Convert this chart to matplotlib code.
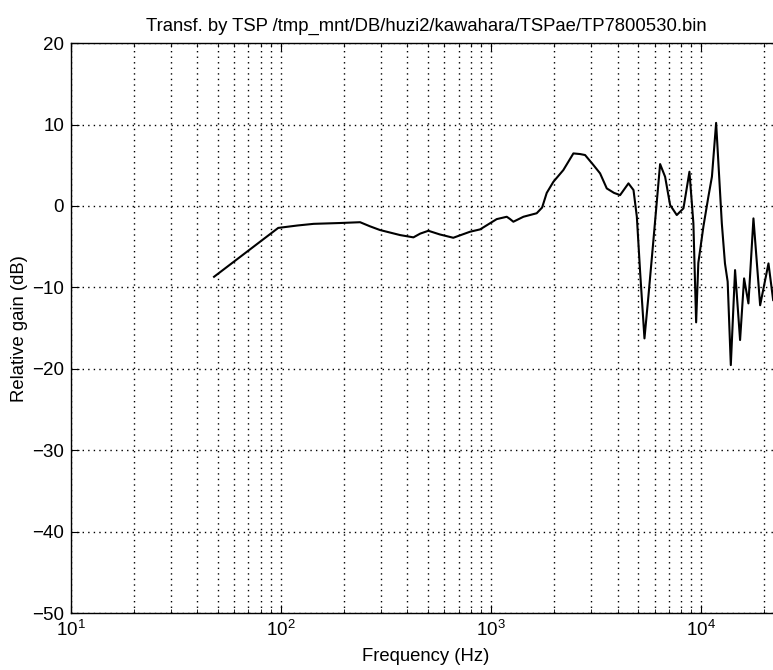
import matplotlib.pyplot as plt
from matplotlib.ticker import LogLocator, NullFormatter, MultipleLocator

# values
freq = [48, 97, 120, 143, 190, 238, 265, 296, 369, 427, 460, 503, 570, 661, 794,
        887, 1064, 1188, 1230, 1277, 1426, 1649, 1750, 1841, 1981, 2208, 2466,
        2655, 2803, 3072, 3304, 3556, 3850, 4115, 4510, 4766, 4944, 5130, 5375,
        5610, 5930, 6380, 6740, 7120, 7660, 8240, 8800, 9190, 9470, 9700, 10260,
        10830, 11260, 11790, 12550, 12990, 13380, 13850, 14510, 15330, 16020,
        16800, 17750, 19100, 20930, 22030]
gain = [-8.7, -2.7, -2.4, -2.2, -2.1, -2.0, -2.5, -2.96, -3.58, -3.86, -3.4, -3.05,
        -3.5, -3.91, -3.17, -2.88, -1.62, -1.33, -1.6, -1.94, -1.33, -0.9, -0.2,
        1.6, 2.97, 4.4, 6.45, 6.37, 6.25, 5.02, 4.0, 2.15, 1.6, 1.33, 2.77, 1.95,
        -1.33, -8.29, -16.27, -11.15, -4.19, 5.14, 3.58, 0.11, -1.12, -0.3, 4.2,
        -2.14, -14.3, -7.0, -2.5, 1.13, 3.59, 10.2, -2.14, -7.06, -9.3, -19.55,
        -7.88, -16.47, -8.9, -11.97, -1.53, -12.2, -7.06, -11.56]

title = 'Transf. by TSP /tmp_mnt/DB/huzi2/kawahara/TSPae/TP7800530.bin'

plt.rcParams['font.family'] = ['Liberation Sans', 'DejaVu Sans']
plt.rcParams['mathtext.fontset'] = 'custom'
plt.rcParams['mathtext.rm'] = 'Liberation Sans'
plt.rcParams['mathtext.default'] = 'regular'

fig = plt.figure(figsize=(7.73, 6.70), dpi=100)
ax = fig.add_axes([0.0918, 0.085, 0.9185, 0.8507])

ax.semilogx(freq, gain, color='black', lw=1.5)
ax.set_xlim(10, 24000)
ax.set_ylim(-50, 20)
ax.yaxis.set_major_locator(MultipleLocator(10))
ax.xaxis.set_major_locator(LogLocator(base=10))
ax.xaxis.set_minor_locator(LogLocator(base=10, subs=range(2, 10)))
ax.xaxis.set_minor_formatter(NullFormatter())

ax.grid(True, which='major', color='black', linestyle=(0, (1, 3)), lw=1.0)
ax.grid(True, which='minor', axis='x', color='black', linestyle=(0, (1, 3)), lw=1.0)

ax.tick_params(which='both', direction='in', top=True, right=False,
               labelsize=13.5, colors='black')
ax.tick_params(which='major', length=6, pad=5)
ax.tick_params(which='minor', length=3)
for s in ax.spines.values():
    s.set_linewidth(1.0)

ax.set_title(title, fontsize=13.3, pad=9)
ax.set_xlabel('Frequency (Hz)', fontsize=13.3, labelpad=6)
ax.set_ylabel('Relative gain (dB)', fontsize=13.3, labelpad=3)

fig.savefig('out.png', dpi=100)
